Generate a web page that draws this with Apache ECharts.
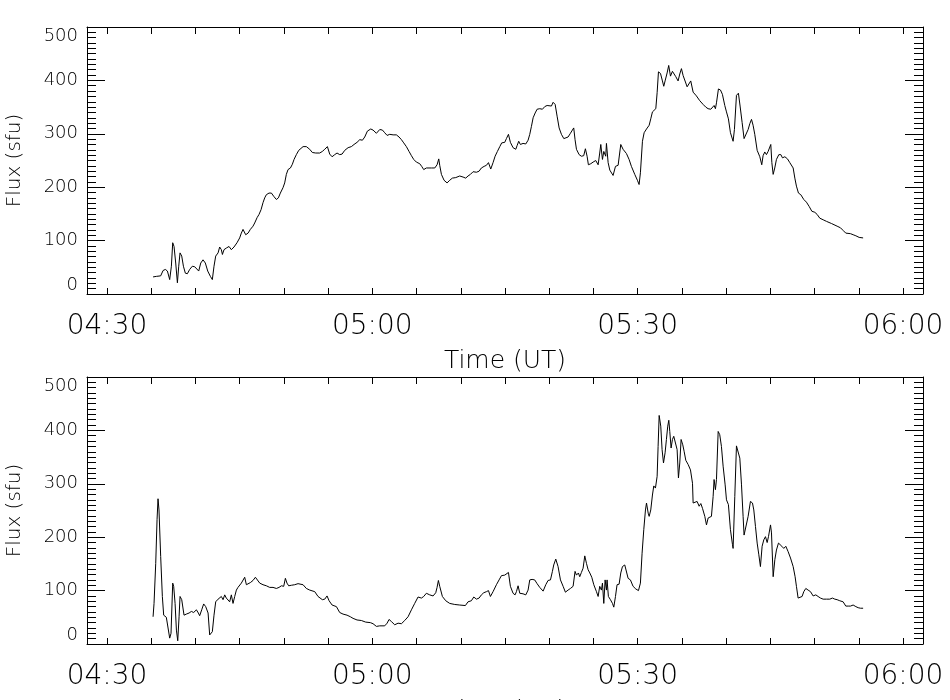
<!DOCTYPE html>
<html>
<head>
<meta charset="utf-8">
<title>Flux (sfu)</title>
<script src="https://cdn.jsdelivr.net/npm/echarts@6/dist/echarts.min.js"></script>
<style>
  html, body { margin: 0; padding: 0; background: #fff; }
  #chart { width: 950px; height: 700px; }
</style>
</head>
<body>
<div id="chart"></div>
<script>
// times are minutes after 04:30 UT, flux in sfu
var topTime = [5.21, 5.58, 6.07, 6.34, 6.60, 6.83, 7.09, 7.28, 7.43, 7.58, 7.77, 7.96, 8.11, 8.26, 8.45, 8.64, 8.86, 9.09, 9.35, 9.65,
  9.92, 10.11, 10.37, 10.60, 10.86, 11.12, 11.39, 11.69, 11.91, 12.10, 12.29, 12.56, 12.74, 12.93, 13.05, 13.23, 13.49, 13.80, 14.06, 14.36,
  14.70, 15.00, 15.19, 15.38, 15.68, 15.95, 16.21, 16.51, 16.70, 16.97, 17.19, 17.42, 17.64, 17.83, 18.02, 18.32, 18.59, 18.85, 19.15, 19.38,
  19.60, 19.90, 20.09, 20.28, 20.47, 20.74, 20.96, 21.15, 21.41, 21.68, 22.17, 22.54, 22.92, 23.22, 23.60, 24.05, 24.35, 24.62, 24.92, 25.18,
  25.45, 25.75, 26.01, 26.31, 26.58, 26.88, 27.26, 27.63, 27.93, 28.27, 28.58, 28.88, 29.14, 29.44, 29.82, 30.08, 30.46, 30.84, 31.14, 31.40,
  31.67, 31.97, 32.35, 32.72, 33.02, 33.29, 33.55, 33.85, 34.15, 34.42, 34.68, 34.98, 35.36, 35.58, 35.81, 36.11, 36.68, 37.06, 37.32, 37.51,
  37.62, 37.81, 38.11, 38.45, 38.75, 39.05, 39.43, 39.88, 40.26, 40.56, 40.82, 41.09, 41.39, 41.77, 42.07, 42.33, 42.64, 42.90, 43.13, 43.39,
  43.65, 43.88, 44.14, 44.41, 44.63, 44.97, 45.16, 45.39, 45.61, 45.91, 46.22, 46.37, 46.55, 46.74, 47.04, 47.35, 47.61, 47.80, 47.99, 48.18,
  48.41, 48.63, 48.93, 49.23, 49.50, 49.76, 49.98, 50.25, 50.44, 50.67, 50.89, 51.12, 51.38, 51.65, 51.87, 52.13, 52.40, 52.62, 52.77, 52.92,
  53.08, 53.38, 53.64, 53.90, 54.09, 54.28, 54.43, 54.70, 54.96, 55.26, 55.53, 55.71, 55.83, 56.02, 56.17, 56.39, 56.47, 56.66, 56.85, 57.22,
  57.49, 57.79, 58.09, 58.35, 58.73, 59.03, 59.29, 59.67, 59.97, 60.16, 60.31, 60.54, 60.73, 61.00, 61.30, 61.48, 61.67, 61.86, 62.05, 62.20,
  62.35, 62.58, 62.80, 62.95, 63.10, 63.33, 63.51, 63.71, 63.93, 64.12, 64.31, 64.57, 64.76, 64.95, 65.14, 65.40, 65.59, 65.81, 66.00, 66.27,
  66.64, 67.02, 67.40, 67.70, 67.96, 68.27, 68.45, 68.64, 68.79, 68.91, 69.13, 69.36, 69.58, 69.85, 70.04, 70.26, 70.49, 70.79, 70.94, 71.17,
  71.39, 71.58, 71.81, 72.03, 72.22, 72.49, 72.68, 72.87, 73.05, 73.24, 73.51, 73.81, 74.03, 74.18, 74.37, 74.56, 74.75, 75.05, 75.17, 75.32,
  75.50, 75.69, 75.96, 76.19, 76.37, 76.64, 76.94, 77.20, 77.58, 77.77, 77.95, 78.18, 78.44, 78.78, 79.08, 79.39, 79.69, 80.03, 80.29, 80.59,
  80.97, 81.35, 81.91, 82.55, 82.93, 83.23, 83.53, 84.06, 84.36, 84.67, 85.04, 85.49];
var topFlux = [32, 33, 34, 44, 46, 43, 27, 52, 96, 89, 58, 21, 52, 77, 71, 52, 39, 38, 46, 52,
  51, 52, 43, 58, 64, 58, 43, 33, 27, 52, 71, 77, 88, 83, 74, 83, 86, 89, 83, 88,
  96, 105, 114, 121, 111, 114, 121, 127, 133, 143, 149, 158, 171, 180, 186, 189, 189, 183, 177, 180,
  189, 199, 208, 224, 233, 236, 243, 252, 261, 269, 276, 276, 271, 265, 264, 264, 267, 271, 276, 262,
  257, 261, 264, 261, 262, 269, 274, 276, 280, 284, 289, 288, 294, 305, 309, 307, 301, 308, 307, 302,
  297, 299, 298, 298, 294, 289, 283, 276, 267, 259, 252, 247, 244, 239, 233, 236, 236, 236, 242, 253,
  241, 224, 213, 208, 213, 217, 218, 221, 219, 217, 221, 224, 229, 228, 230, 236, 239, 241, 246, 234,
  246, 258, 267, 276, 283, 284, 291, 299, 284, 274, 271, 278, 286, 280, 282, 281, 288, 299, 314, 330,
  339, 346, 347, 346, 351, 353, 355, 352, 359, 355, 333, 311, 299, 291, 288, 294, 301, 307, 311, 289,
  271, 261, 258, 259, 272, 258, 242, 244, 247, 250, 242, 264, 280, 252, 267, 258, 282, 246, 232, 222,
  239, 241, 280, 271, 263, 252, 239, 224, 213, 205, 227, 286, 302, 309, 316, 328, 341, 344, 347, 377,
  416, 413, 399, 389, 399, 414, 428, 408, 417, 414, 407, 399, 412, 422, 409, 397, 388, 391, 399, 378,
  371, 362, 355, 350, 347, 346, 344, 353, 347, 358, 384, 382, 374, 353, 341, 328, 302, 286, 308, 372,
  376, 352, 321, 291, 288, 308, 319, 327, 316, 299, 269, 257, 242, 259, 266, 261, 267, 280, 246, 224,
  236, 252, 261, 261, 255, 257, 253, 246, 236, 217, 202, 189, 186, 177, 172, 164, 155, 153, 149, 142,
  139, 136, 132, 127, 124, 119, 114, 113, 111, 109, 106, 105];

var botTime = [5.21, 5.32, 5.51, 5.66, 5.77, 5.88, 6.07, 6.26, 6.41, 6.71, 6.90, 7.09, 7.24, 7.43, 7.54, 7.70, 7.85, 8.00, 8.15, 8.26,
  8.45, 8.71, 8.97, 9.28, 9.54, 9.80, 10.11, 10.33, 10.48, 10.71, 10.93, 11.16, 11.43, 11.61, 11.76, 11.91, 12.10, 12.29, 12.56, 12.74,
  12.93, 13.12, 13.31, 13.49, 13.68, 13.87, 14.06, 14.25, 14.44, 14.63, 14.81, 15.00, 15.19, 15.38, 15.57, 15.76, 15.95, 16.21, 16.51, 16.78,
  16.97, 17.27, 17.64, 18.02, 18.40, 18.77, 19.15, 19.45, 19.72, 19.98, 20.17, 20.35, 20.54, 20.85, 21.22, 21.60, 21.79, 22.17, 22.54, 22.92,
  23.49, 23.86, 24.35, 24.62, 24.88, 25.11, 25.45, 25.94, 26.31, 26.69, 27.14, 27.52, 27.82, 28.27, 28.76, 29.25, 29.78, 30.08, 30.46, 30.84,
  31.40, 31.67, 31.89, 32.16, 32.53, 32.91, 33.29, 33.66, 34.04, 34.42, 34.79, 35.17, 35.55, 35.81, 36.11, 36.49, 36.87, 37.17, 37.32, 37.47,
  37.62, 37.92, 38.30, 38.75, 39.32, 39.88, 40.52, 40.82, 41.20, 41.47, 41.77, 42.07, 42.33, 42.60, 42.90, 43.13, 43.35, 43.65, 44.03, 44.33,
  44.60, 44.97, 45.16, 45.39, 45.61, 45.91, 46.14, 46.29, 46.48, 46.67, 46.86, 47.04, 47.35, 47.61, 47.80, 48.06, 48.36, 48.63, 48.93, 49.31,
  49.61, 49.87, 50.14, 50.36, 50.51, 50.74, 51.00, 51.27, 51.57, 51.83, 52.13, 52.40, 52.70, 52.92, 53.08, 53.30, 53.45, 53.64, 53.83, 54.02,
  54.21, 54.40, 54.59, 54.81, 55.04, 55.34, 55.53, 55.71, 55.90, 56.02, 56.17, 56.32, 56.47, 56.54, 56.69, 56.92, 57.15, 57.30, 57.49, 57.67,
  57.90, 58.09, 58.28, 58.54, 58.73, 58.92, 59.18, 59.48, 59.79, 60.09, 60.31, 60.50, 60.69, 60.88, 61.00, 61.19, 61.30, 61.48, 61.67, 61.82,
  62.01, 62.20, 62.31, 62.43, 62.61, 62.76, 62.92, 63.10, 63.25, 63.40, 63.52, 63.63, 63.78, 63.93, 64.08, 64.23, 64.46, 64.61, 64.76, 64.91,
  65.10, 65.25, 65.44, 65.71, 65.97, 66.20, 66.27, 66.49, 66.72, 66.95, 67.14, 67.33, 67.59, 67.78, 67.97, 68.16, 68.34, 68.53, 68.64, 68.79,
  68.91, 69.10, 69.28, 69.47, 69.66, 69.89, 70.04, 70.26, 70.49, 70.72, 70.79, 70.98, 71.17, 71.36, 71.55, 71.74, 71.92, 72.03, 72.22, 72.49,
  72.75, 72.98, 73.13, 73.32, 73.51, 73.70, 73.88, 74.07, 74.26, 74.45, 74.64, 74.79, 75.02, 75.13, 75.32, 75.51, 75.69, 75.92, 76.11, 76.30,
  76.52, 76.75, 77.01, 77.28, 77.58, 77.80, 77.95, 78.14, 78.33, 78.59, 78.78, 79.01, 79.27, 79.54, 79.84, 80.14, 80.40, 80.67, 80.97, 81.35,
  81.72, 82.02, 82.29, 82.55, 82.85, 83.23, 83.53, 83.80, 84.06, 84.36, 84.67, 84.93, 85.19, 85.49];
var botFlux = [51, 76, 151, 233, 272, 251, 164, 89, 54, 50, 51, 11, 20, 114, 108, 76, 26, 6, 51, 89,
  83, 54, 56, 58, 61, 59, 64, 58, 53, 64, 75, 70, 58, 17, 14, 23, 54, 79, 84, 87,
  89, 83, 92, 86, 89, 79, 92, 76, 89, 101, 106, 108, 114, 111, 125, 111, 114, 115, 119, 125,
  123, 114, 111, 109, 106, 106, 104, 106, 109, 108, 123, 114, 109, 110, 111, 113, 114, 111, 104, 101,
  98, 89, 83, 84, 90, 81, 73, 70, 59, 56, 54, 51, 48, 45, 44, 41, 40, 38, 33, 34,
  34, 39, 46, 42, 36, 39, 38, 44, 51, 64, 76, 88, 86, 89, 95, 92, 90, 96, 106, 119,
  108, 89, 81, 76, 74, 73, 72, 79, 81, 88, 84, 86, 92, 96, 98, 100, 89, 98, 111, 120,
  128, 129, 128, 134, 108, 95, 92, 98, 109, 95, 92, 94, 92, 101, 120, 121, 120, 113, 106, 99,
  111, 119, 120, 136, 148, 159, 145, 120, 108, 97, 101, 104, 108, 136, 129, 133, 126, 134, 142, 165,
  151, 139, 133, 125, 111, 98, 89, 108, 101, 114, 76, 120, 101, 120, 89, 83, 76, 69, 89, 111,
  112, 133, 145, 148, 151, 123, 120, 108, 103, 100, 114, 170, 214, 251, 264, 245, 239, 251, 279, 296,
  292, 314, 370, 428, 408, 364, 339, 358, 383, 408, 419, 398, 367, 383, 389, 386, 364, 311, 339, 383,
  373, 361, 344, 336, 326, 301, 264, 261, 267, 258, 263, 254, 239, 223, 236, 239, 239, 276, 308, 289,
  308, 398, 392, 370, 333, 298, 270, 261, 214, 186, 179, 276, 371, 373, 348, 298, 239, 204, 201, 239,
  267, 264, 251, 220, 189, 167, 145, 183, 195, 201, 190, 201, 223, 208, 126, 158, 176, 189, 192, 183,
  179, 183, 173, 161, 145, 126, 108, 86, 83, 89, 98, 104, 101, 98, 90, 92, 89, 86, 84, 84,
  84, 86, 84, 83, 81, 79, 71, 71, 71, 73, 70, 68, 67, 67];

var tickMinutes = [0, 5, 10, 15, 20, 25, 30, 35, 40, 45, 50, 55, 60, 65, 70, 75, 80, 85, 90];
var labelMinutes = [0, 30, 60, 90];
var timeMin = -2.26;
var timeMax = 92.26;

var FONT = "'DejaVu Sans', Lato, sans-serif";

function hhmm(v) {
  var total = 270 + Math.round(v);
  var h = Math.floor(total / 60), m = total % 60;
  return (h < 10 ? '0' : '') + h + ':' + (m < 10 ? '0' : '') + m;
}

function zip(a, b) {
  var out = [];
  for (var i = 0; i < a.length; i++) out.push([a[i], b[i]]);
  return out;
}

var lineBlack = { color: '#000', width: 1 };

function xAxisFor(grid, pos) {
  var bottom = pos === 'bottom';
  return {
    type: 'value', gridIndex: grid, position: pos,
    min: timeMin, max: timeMax,
    axisLine: { show: true, onZero: false, lineStyle: lineBlack },
    axisTick: { show: true, inside: true, length: bottom ? 6 : 7, customValues: tickMinutes, lineStyle: lineBlack },
    axisLabel: {
      show: bottom, customValues: labelMinutes, formatter: hhmm,
      fontSize: 28, margin: 19, color: '#000', fontFamily: FONT, fontWeight: 200
    },
    splitLine: { show: false },
    name: bottom ? 'Time (UT)' : '',
    nameLocation: 'middle', nameGap: 55,
    nameTextStyle: { fontSize: 25, color: '#000', fontFamily: FONT, fontWeight: 200 }
  };
}

function yAxisFor(grid, pos) {
  var left = pos === 'left';
  return {
    type: 'value', gridIndex: grid, position: pos,
    min: 0, max: 500, interval: 100,
    axisLine: { show: true, onZero: false, lineStyle: lineBlack },
    axisTick: { show: true, inside: true, length: 18, lineStyle: lineBlack },
    minorTick: { show: true, splitNumber: 10, length: 9, lineStyle: lineBlack },
    axisLabel: {
      show: left, fontSize: 18, margin: 9, color: '#000', fontFamily: FONT, fontWeight: 200,
      verticalAlignMinLabel: 'bottom', verticalAlignMaxLabel: 'top'
    },
    splitLine: { show: false },
    minorSplitLine: { show: false },
    name: left ? 'Flux (sfu)' : '',
    nameLocation: 'middle', nameGap: 62,
    nameTextStyle: { fontSize: 20, color: '#000', fontFamily: FONT, fontWeight: 200 }
  };
}

var chart = echarts.init(document.getElementById('chart'));
chart.setOption({
  animation: false,
  backgroundColor: '#fff',
  grid: [
    { left: 87, top: 27, width: 836, height: 267, containLabel: false, outerBoundsMode: 'none' },
    { left: 87, top: 377, width: 836, height: 267, containLabel: false, outerBoundsMode: 'none' }
  ],
  xAxis: [xAxisFor(0, 'bottom'), xAxisFor(0, 'top'), xAxisFor(1, 'bottom'), xAxisFor(1, 'top')],
  yAxis: [yAxisFor(0, 'left'), yAxisFor(0, 'right'), yAxisFor(1, 'left'), yAxisFor(1, 'right')],
  series: [
    {
      type: 'line', xAxisIndex: 0, yAxisIndex: 0,
      data: zip(topTime, topFlux), showSymbol: false, symbol: 'none',
      lineStyle: lineBlack
    },
    {
      type: 'line', xAxisIndex: 2, yAxisIndex: 2,
      data: zip(botTime, botFlux), showSymbol: false, symbol: 'none',
      lineStyle: lineBlack
    }
  ]
});
window.addEventListener('resize', function () {
  chart.resize();
});
</script>
</body>
</html>
